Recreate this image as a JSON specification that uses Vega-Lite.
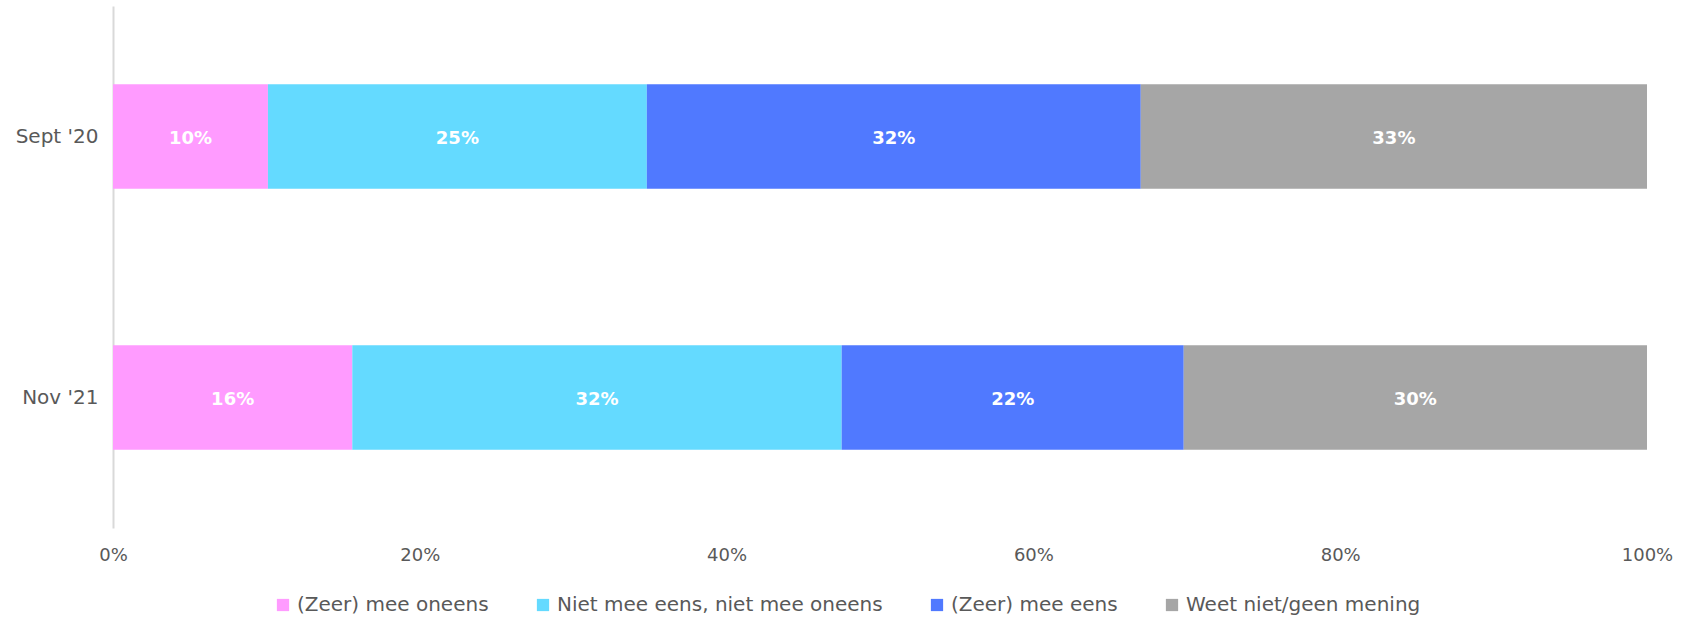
{
  "$schema": "https://vega.github.io/schema/vega-lite/v6.json",
  "width": 1534,
  "height": 522,
  "autosize": {"type": "none"},
  "padding": {"left": 113, "top": 6, "right": 40, "bottom": 89},
  "background": "white",
  "config": {"font": "DejaVu Sans", "view": {"stroke": null}},
  "data": {
    "values": [
      {"period": "Sept '20", "cat": "(Zeer) mee oneens", "k": 1, "value": 0.101},
      {"period": "Sept '20", "cat": "Niet mee eens, niet mee oneens", "k": 2, "value": 0.247},
      {"period": "Sept '20", "cat": "(Zeer) mee eens", "k": 3, "value": 0.322},
      {"period": "Sept '20", "cat": "Weet niet/geen mening", "k": 4, "value": 0.330},
      {"period": "Nov '21", "cat": "(Zeer) mee oneens", "k": 1, "value": 0.156},
      {"period": "Nov '21", "cat": "Niet mee eens, niet mee oneens", "k": 2, "value": 0.319},
      {"period": "Nov '21", "cat": "(Zeer) mee eens", "k": 3, "value": 0.223},
      {"period": "Nov '21", "cat": "Weet niet/geen mening", "k": 4, "value": 0.302}
    ]
  },
  "transform": [
    {"stack": "value", "groupby": ["period"], "sort": [{"field": "k"}], "as": ["x0", "x1"]},
    {"calculate": "(datum.x0 + datum.x1) / 2", "as": "xm"}
  ],
  "encoding": {
    "y": {
      "field": "period",
      "type": "nominal",
      "sort": ["Sept '20", "Nov '21"],
      "scale": {"paddingInner": 0.6, "paddingOuter": 0.3},
      "axis": {
        "title": null,
        "domainColor": "#d9d9d9",
        "domainWidth": 2,
        "ticks": false,
        "labelFontSize": 20,
        "labelColor": "#595959",
        "labelPadding": 15
      }
    }
  },
  "layer": [
    {
      "mark": {"type": "bar"},
      "encoding": {
        "x": {
          "field": "x0",
          "type": "quantitative",
          "scale": {"domain": [0, 1]},
          "axis": {
            "title": null,
            "domain": false,
            "ticks": false,
            "grid": false,
            "format": "%",
            "values": [0, 0.2, 0.4, 0.6, 0.8, 1],
            "labelFlush": false,
            "labelPadding": 18,
            "labelFontSize": 18,
            "labelColor": "#595959"
          }
        },
        "x2": {"field": "x1"},
        "color": {
          "field": "cat",
          "type": "nominal",
          "scale": {
            "domain": ["(Zeer) mee oneens", "Niet mee eens, niet mee oneens", "(Zeer) mee eens", "Weet niet/geen mening"],
            "range": ["#FF9BFF", "#64DAFF", "#5079FF", "#A6A6A6"]
          },
          "legend": {
            "title": null,
            "orient": "none",
            "direction": "horizontal",
            "legendX": 160,
            "legendY": 589,
            "symbolType": "square",
            "symbolSize": 150,
            "symbolStrokeWidth": 0,
            "labelFontSize": 20,
            "labelLimit": 0,
            "labelColor": "#595959",
            "labelOffset": 4,
            "columnPadding": 44
          }
        }
      }
    },
    {
      "mark": {"type": "text", "color": "white", "fontWeight": "bold", "fontSize": 18, "dy": 2},
      "encoding": {
        "x": {"field": "xm", "type": "quantitative"},
        "text": {"field": "value", "type": "quantitative", "format": ".0%"}
      }
    }
  ]
}
